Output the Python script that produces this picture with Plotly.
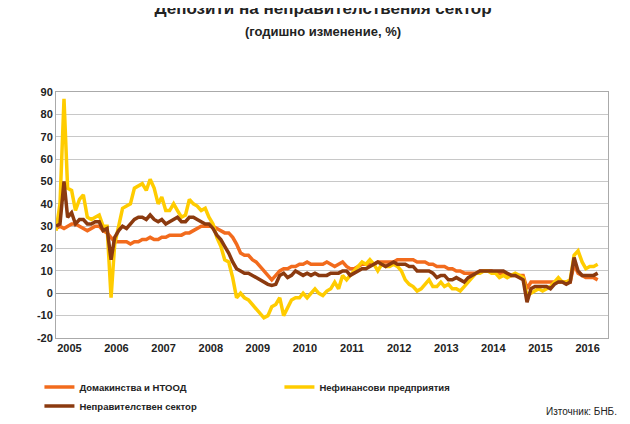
import plotly.graph_objects as go
import pandas as pd

dates = pd.date_range("2004-12-01", periods=139, freq="MS")

households = [29,30,29,30,31,31,30,29,28,29,30,30,28,27,25,23,23,23,23,22,23,23,24,24,25,24,24,25,25,26,
              26,26,26,27,27,28,29,30,30,30,30,29,28,27,27,25,22,18,17,17,15,14,12,10,8,6,8,10,11,11,
              12,12,13,13,14,13,13,13,13,14,13,12,13,14,12,11,11,12,13,13,13,13,14,14,14,14,14,15,15,15,
              15,15,14,14,14,13,13,12,12,12,11,11,10,10,9,9,9,9,10,10,10,10,9,9,9,8,8,8,8,8,
              2,5,5,5,5,5,5,5,5,5,5,5,13,9,8,7,7,7,6]
nonfin = [28,40,87,47,46,37,42,44,34,33,34,35,30,30,-2,22,30,38,39,40,47,48,49,46,51,47,40,43,37,37,
          40,37,34,35,42,40,39,37,38,34,31,25,21,15,14,7,-2,0,-2,-3,-5,-7,-9,-11,-10,-6,-5,-2,-10,-6,
          -3,-2,-2,0,-2,0,2,0,-1,1,2,5,2,8,6,8,10,12,14,13,15,13,10,13,12,12,13,12,10,6,
          4,3,1,2,4,6,3,3,5,3,4,2,2,1,3,5,7,9,9,10,10,9,9,7,8,7,8,9,8,7,
          -1,0,1,2,1,2,3,5,7,5,5,6,17,19,14,11,12,12,13]
gov_sector = [30,31,50,34,36,31,33,33,31,31,32,32,28,29,15,25,28,30,29,31,33,34,34,33,35,33,32,33,31,32,
              33,34,32,32,34,34,33,32,31,31,29,26,24,21,18,14,11,10,9,9,8,7,6,5,4,3.5,4,8,9,7,
              8,10,9,8,9,8,9,8,8,8,9,9,9,10,10,8,9,10,11,11,12,13,14,13,12,13,14,13,13,13,
              12,12,10,10,10,10,9,7,8,8,6,6,7,6,5,7,8,9,10,10,10,10,10,10,10,9,8,8,7,6,
              -4,2,3,3,3,3,2,4,5,5,4,5,16,10,8,8,8,8,9]

names = ["Домакинства и НТООД", "Нефинансови предприятия", "Неправителствен сектор"]
colors = ["#F26B1D", "#FFCC00", "#8B3A0F"]
years = list(range(2005, 2017))

fig = go.Figure()
for n, c, s in zip(names, colors, [households, nonfin, gov_sector]):
    fig.add_trace(go.Scatter(x=dates, y=s, name=f"<b>{n}</b>", mode="lines",
                             line=dict(color=c, width=3.5)))

fig.update_layout(
    width=630, height=424, paper_bgcolor="white", plot_bgcolor="white",
    margin=dict(l=48, r=30, t=84, b=82),
    font=dict(family="Liberation Sans, Arial", size=11, color="#222"),
    title=dict(text="<b>Депозити на неправителствения сектор</b><br><span style='font-size:13px'><b>(годишно изменение, %)</b></span>",
               x=0.5, xanchor="center", y=0.985, yanchor="top", font=dict(size=17)),
    showlegend=True,
    legend=dict(orientation="h", x=-0.03, y=-0.14, xanchor="left", yanchor="top",
                entrywidth=195, font=dict(size=9.5, family="Liberation Sans, Arial"), itemwidth=30),
    xaxis=dict(range=["2004-12-01", "2016-08-20"], tickvals=[f"{y}-03-15" for y in years],
               ticktext=[f"<b>{y}</b>" for y in years], showgrid=False, showline=True,
               linecolor="#aaa", mirror=True, ticks="", tickfont=dict(size=11)),
    yaxis=dict(range=[-20, 90], dtick=10, showgrid=True, gridcolor="#c8c8c8",
               showline=True, linecolor="#aaa", mirror=True, zeroline=True,
               zerolinecolor="#999", zerolinewidth=1,
               tickvals=list(range(-20, 91, 10)),
               ticktext=[f"<b>{v}</b>" for v in range(-20, 91, 10)], tickfont=dict(size=11)),
)
fig.add_annotation(text="Източник: БНБ.", xref="paper", yref="paper", x=1.02, y=-0.27,
                   xanchor="right", yanchor="top", showarrow=False, font=dict(size=10))
fig.write_html("out.html")
